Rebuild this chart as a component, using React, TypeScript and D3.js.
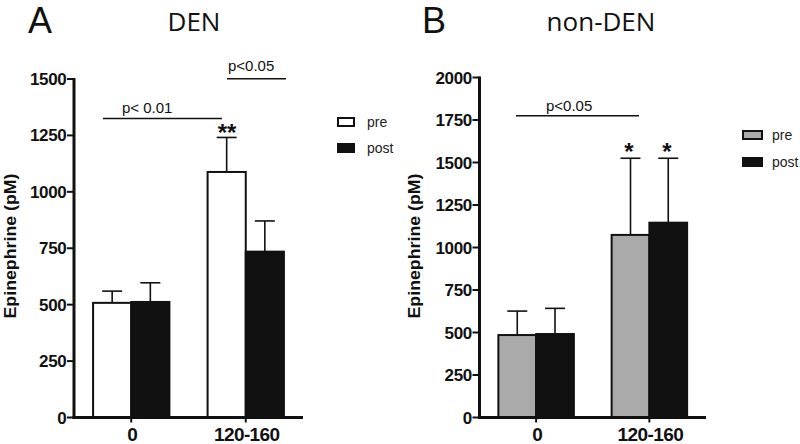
import React from "react";
import * as d3 from "d3";

const categories = ["0", "120-160"];
const series = ["pre", "post"];

const denPre = [508, 1088];
const denPreErr = [52, 153];
const denPost = [512, 735];
const denPostErr = [85, 136];

const nonPre = [485, 1074];
const nonPreErr = [141, 451];
const nonPost = [491, 1146];
const nonPostErr = [151, 379];

const denTicks = [0, 250, 500, 750, 1000, 1250, 1500];
const nonTicks = [0, 250, 500, 750, 1000, 1250, 1500, 1750, 2000];

const SANS = "'Liberation Sans', Arial, sans-serif";
const TITLE = "'Open Sans', 'Liberation Sans', sans-serif";

type PanelProps = {
  letter: string;
  title: string;
  x0: number;
  x1: number;
  yTop: number;
  yMax: number;
  ticks: number[];
  pre: number[];
  preErr: number[];
  post: number[];
  postErr: number[];
  preFill: string;
  letterX: number;
  titleX: number;
  ylabelX: number;
  legendX: number;
  legendY: number;
  legendGap: number;
  legendW: number;
  children?: React.ReactNode;
};

function Panel(p: PanelProps) {
  const yBase = 417.5;
  const y = d3.scaleLinear().domain([0, p.yMax]).range([yBase, p.yTop]);
  const xg = d3.scaleBand().domain(categories).range([p.x0, p.x1]).padding(0);
  const xs = d3
    .scaleBand()
    .domain(series)
    .range([0, xg.bandwidth()])
    .paddingInner(0)
    .paddingOuter(0.5);
  const bw = xs.bandwidth();
  const vals: Record<string, number[]> = { pre: p.pre, post: p.post };
  const errs: Record<string, number[]> = { pre: p.preErr, post: p.postErr };
  const fills: Record<string, string> = { pre: p.preFill, post: "#111" };
  return (
    <g>
      <text x={p.letterX} y={32.5} fontFamily={SANS} fontSize={36} fill="#111">
        {p.letter}
      </text>
      <text x={p.titleX} y={31} fontFamily={TITLE} fontSize={26} textAnchor="middle" fill="#111">
        {p.title}
      </text>
      {categories.map((c, i) =>
        series.map((s) => {
          const bx = (xg(c) as number) + (xs(s) as number);
          const v = vals[s][i];
          const e = errs[s][i];
          const cx = bx + bw / 2;
          return (
            <g key={c + s}>
              <line x1={cx} x2={cx} y1={y(v)} y2={y(v + e)} stroke="#111" strokeWidth={1.6} />
              <line x1={cx - 10} x2={cx + 10} y1={y(v + e)} y2={y(v + e)} stroke="#111" strokeWidth={1.6} />
              <rect
                x={bx}
                y={y(v)}
                width={bw}
                height={yBase - y(v)}
                fill={fills[s]}
                stroke="#111"
                strokeWidth={2}
              />
            </g>
          );
        })
      )}
      {/* axes */}
      <line x1={p.x0} x2={p.x0} y1={p.yTop - 1} y2={yBase + 1.5} stroke="#111" strokeWidth={3} />
      <line x1={p.x0 - 1.5} x2={p.x1} y1={yBase} y2={yBase} stroke="#111" strokeWidth={3} />
      {p.ticks.map((t) => (
        <g key={t}>
          <line x1={p.x0 - 7} x2={p.x0} y1={y(t)} y2={y(t)} stroke="#111" strokeWidth={2} />
          <text
            x={p.x0 - 7.5}
            y={y(t) + 6}
            textAnchor="end"
            fontFamily={SANS}
            fontWeight="bold"
            fontSize={17}
            letterSpacing={-0.3}
            fill="#111"
          >
            {t}
          </text>
        </g>
      ))}
      {categories.map((c) => {
        const cx = (xg(c) as number) + xg.bandwidth() / 2;
        return (
          <g key={c}>
            <line x1={cx} x2={cx} y1={yBase} y2={yBase + 5} stroke="#111" strokeWidth={2} />
            <text
              x={cx + 1}
              y={441}
              textAnchor="middle"
              fontFamily={SANS}
              fontWeight="bold"
              fontSize={19}
              letterSpacing={-0.6}
              fill="#111"
            >
              {c}
            </text>
          </g>
        );
      })}
      <text
        transform={`translate(${p.ylabelX + 5.5},246) rotate(-90)`}
        textAnchor="middle"
        fontFamily={SANS}
        fontWeight="bold"
        fontSize={16.5}
        textLength={145}
        lengthAdjust="spacingAndGlyphs"
        fill="#111"
      >
        Epinephrine (pM)
      </text>
      {/* legend */}
      <rect
        x={p.legendX}
        y={p.legendY}
        width={p.legendW}
        height={8}
        fill={p.preFill}
        stroke="#111"
        strokeWidth={2}
      />
      <text x={p.legendX + 29} y={p.legendY + 9} fontFamily={SANS} fontSize={14} fill="#222">
        pre
      </text>
      <rect
        x={p.legendX - 1}
        y={p.legendY + p.legendGap - 1}
        width={p.legendW + 2}
        height={10}
        fill="#111"
      />
      <text x={p.legendX + 29} y={p.legendY + p.legendGap + 9} fontFamily={SANS} fontSize={14} fill="#222">
        post
      </text>
      {p.children}
    </g>
  );
}

export default function App() {
  return (
    <svg width={800} height={444} style={{ display: "block", position: "absolute", left: 0, top: 0 }}>
      <rect width={800} height={444} fill="#fff" />
      <Panel
        letter="A"
        title="DEN"
        x0={74}
        x1={303}
        yTop={79}
        yMax={1500}
        ticks={denTicks}
        pre={denPre}
        preErr={denPreErr}
        post={denPost}
        postErr={denPostErr}
        preFill="#fff"
        letterX={28}
        titleX={194}
        ylabelX={10}
        legendX={338}
        legendY={118}
        legendGap={26}
        legendW={16}
      >
        <line x1={103} x2={222} y1={118.5} y2={118.5} stroke="#111" strokeWidth={1.5} />
        <text x={122} y={113} fontFamily={SANS} fontSize={15} fill="#111">
          p&lt; 0.01
        </text>
        <text x={227} y={140.5} textAnchor="middle" fontFamily={SANS} fontWeight="bold" fontSize={24} fill="#111">
          **
        </text>
        <line x1={227} x2={286} y1={78.7} y2={78.7} stroke="#111" strokeWidth={1.5} />
        <text x={228} y={71} fontFamily={SANS} fontSize={15} fill="#111">
          p&lt;0.05
        </text>
      </Panel>
      <Panel
        letter="B"
        title="non-DEN"
        x0={479.5}
        x1={706}
        yTop={77.5}
        yMax={2000}
        ticks={nonTicks}
        pre={nonPre}
        preErr={nonPreErr}
        post={nonPost}
        postErr={nonPostErr}
        preFill="#aaa"
        letterX={422}
        titleX={601}
        ylabelX={414}
        legendX={743}
        legendY={131}
        legendGap={27}
        legendW={19}
      >
        <line x1={516} x2={639} y1={115.7} y2={115.7} stroke="#111" strokeWidth={1.5} />
        <text x={546} y={111} fontFamily={SANS} fontSize={15} fill="#111">
          p&lt;0.05
        </text>
        <text x={629} y={159.5} textAnchor="middle" fontFamily={SANS} fontWeight="bold" fontSize={24} fill="#111">
          *
        </text>
        <text x={667} y={159.5} textAnchor="middle" fontFamily={SANS} fontWeight="bold" fontSize={24} fill="#111">
          *
        </text>
      </Panel>
    </svg>
  );
}
